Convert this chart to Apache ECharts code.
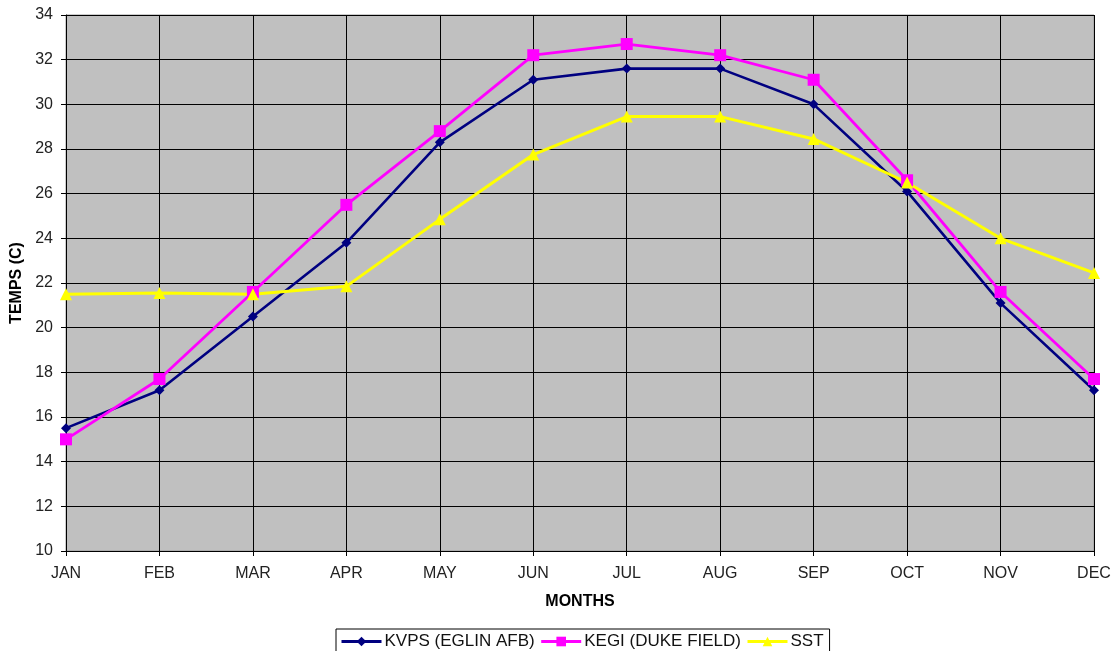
<!DOCTYPE html>
<html>
<head>
<meta charset="utf-8">
<script src="https://cdn.jsdelivr.net/npm/echarts@6/dist/echarts.min.js"></script>
<style>html,body{margin:0;padding:0;background:#fff;}#c{width:1114px;height:651px;}</style>
</head>
<body>
<div id="c"></div>
<script>
const months = ['JAN','FEB','MAR','APR','MAY','JUN','JUL','AUG','SEP','OCT','NOV','DEC'];
const kvps = [15.5, 17.2, 20.5, 23.8, 28.3, 31.1, 31.6, 31.6, 30.0, 26.1, 21.1, 17.2];
const kegi = [15.0, 17.7, 21.6, 25.5, 28.8, 32.2, 32.7, 32.2, 31.1, 26.6, 21.6, 17.7];
const sst  = [21.5, 21.55, 21.5, 21.85, 24.85, 27.75, 29.45, 29.45, 28.45, 26.5, 24.0, 22.45];
const seriesNames = ['KVPS (EGLIN AFB)', 'KEGI (DUKE FIELD)', 'SST'];

const font = 'Liberation Sans, Arial, sans-serif';
const chart = echarts.init(document.getElementById('c'), null, {renderer:'canvas'});
chart.setOption({
  animation: false,
  backgroundColor: '#ffffff',
  grid: {left: 66, right: 20, top: 15, bottom: 100, show: true, backgroundColor: '#c0c0c0', borderColor: '#999999', borderWidth: 1, containLabel: false},
  legend: {
    top: 629, left: 336,
    data: seriesNames,
    borderColor: '#000', borderWidth: 1, borderRadius: 0,
    padding: [4, 6, 4, 4],
    itemGap: 5, itemWidth: 40, itemHeight: 12,
    lineStyle: {width: 3},
    textStyle: {fontFamily: font, fontSize: 17, color: '#111', padding: [0, 0, 0, -2]}
  },
  xAxis: {
    type: 'category', data: months, boundaryGap: false,
    name: 'MONTHS', nameLocation: 'middle', nameGap: 43,
    nameTextStyle: {fontFamily: font, fontSize: 16, fontWeight: 'bold', color: '#000'},
    axisLine: {lineStyle: {color: '#000', width: 1}},
    axisTick: {show: true, length: 5, lineStyle: {color: '#000'}},
    axisLabel: {fontFamily: font, fontSize: 16, color: '#222', margin: 15},
    splitLine: {show: true, lineStyle: {color: '#000', width: 1}}
  },
  yAxis: {
    type: 'value', min: 10, max: 34, interval: 2,
    name: 'TEMPS (C)', nameLocation: 'middle', nameGap: 38, nameRotate: 90,
    nameTextStyle: {fontFamily: font, fontSize: 16, fontWeight: 'bold', color: '#000'},
    axisLine: {show: true, lineStyle: {color: '#000', width: 1}},
    axisTick: {show: true, length: 5, lineStyle: {color: '#000'}},
    axisLabel: {fontFamily: font, fontSize: 16, color: '#222', margin: 13},
    splitLine: {show: true, lineStyle: {color: '#000', width: 1}}
  },
  series: [
    {name: seriesNames[0], type: 'line', data: kvps, symbol: 'diamond', symbolSize: 10,
     lineStyle: {color: '#000080', width: 2.6}, itemStyle: {color: '#000080'}},
    {name: seriesNames[1], type: 'line', data: kegi, symbol: 'rect', symbolSize: 12,
     lineStyle: {color: '#ff00ff', width: 2.8}, itemStyle: {color: '#ff00ff'}},
    {name: seriesNames[2], type: 'line', data: sst, symbol: 'triangle', symbolSize: 12,
     lineStyle: {color: '#ffff00', width: 3}, itemStyle: {color: '#ffff00'}}
  ]
});
</script>
</body>
</html>
